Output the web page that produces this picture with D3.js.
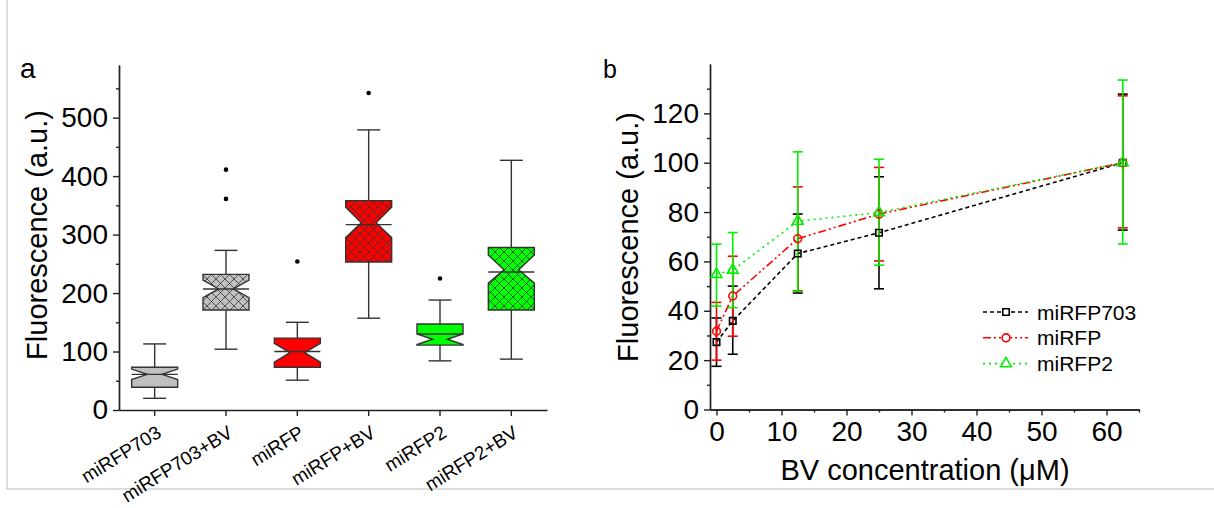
<!DOCTYPE html>
<html>
<head>
<meta charset="utf-8">
<script src="https://cdn.jsdelivr.net/npm/d3@7"></script>
<style>
  body { margin: 0; background: #fff; }
  svg { font-family: "Liberation Sans", Arial, sans-serif; }
</style>
</head>
<body>
<svg id="chart" width="1214" height="508"></svg>
<script>
// panel a: box plot values
const categories = ["miRFP703", "miRFP703+BV", "miRFP", "miRFP+BV", "miRFP2", "miRFP2+BV"];
const whiskerLo = [20, 104, 51, 157, 84, 87];
const q1 = [39, 171, 73, 253, 111, 171];
const notchLo = [52, 192, 82, 295, 112, 217];
const median = [61, 207, 98, 320, 121, 240];
const notchHi = [70, 222, 114, 347, 130, 265];
const q3 = [73, 232, 123, 358, 147, 278];
const whiskerHi = [113, 273, 150, 479, 188, 427];
const meanLine = [61, 207, 100, 317, 130, 236];
const outliers = [[], [361, 411], [254], [542], [225], []];
const boxFill = ["#c0c0c0", "#c0c0c0", "#ff0000", "#ff0000", "#00ff00", "#00ff00"];
const hatched = [false, true, false, true, false, true];
const yTicksA = [0, 100, 200, 300, 400, 500];
const yMinorA = [50, 150, 250, 350, 450, 550];

// panel b: dose response
const conc = [0, 2.5, 12.5, 25, 62.5];
const names = ["miRFP703", "miRFP", "miRFP2"];
const v703 = [27.3, 35.9, 63.2, 71.6, 100];
const v703Hi = [37.1, 50, 79.2, 94.3, 127.8];
const v703Lo = [17.5, 22.4, 47.2, 48.9, 72.7];
const vRFP = [31.7, 46, 69.2, 79.2, 100];
const vRFPHi = [43.4, 62.1, 90.2, 98.1, 127.1];
const vRFPLo = [20, 29.7, 48.1, 60.2, 73.6];
const vRFP2 = [54.8, 56.5, 76.3, 79.8, 100];
const vRFP2Hi = [67, 71.7, 104.4, 101.4, 133.5];
const vRFP2Lo = [41.9, 41.3, 47.9, 58.5, 67.1];
const xTicksB = [0, 10, 20, 30, 40, 50, 60];
const xMinorB = [5, 15, 25, 35, 45, 55, 65];
const yTicksB = [0, 20, 40, 60, 80, 100, 120];
const yMinorB = [10, 30, 50, 70, 90, 110, 130];

var svg = d3.select("#chart");
var axisColor = "#222";

// outer frame lines
svg.append("line").attr("x1", 7).attr("y1", 0).attr("x2", 7).attr("y2", 489)
  .attr("stroke", "#bbb").attr("stroke-width", 1);
svg.append("line").attr("x1", 7).attr("y1", 489).attr("x2", 1214).attr("y2", 489)
  .attr("stroke", "#bbb").attr("stroke-width", 1);

// crosshatch patterns
var defs = svg.append("defs");
boxFill.forEach(function(c, i) {
  if (!hatched[i]) return;
  var p = defs.append("pattern")
    .attr("id", "hatch" + i)
    .attr("patternUnits", "userSpaceOnUse")
    .attr("width", 9).attr("height", 9);
  p.append("rect").attr("width", 9).attr("height", 9).attr("fill", c);
  p.append("path").attr("d", "M0,0L9,9M9,0L0,9")
    .attr("stroke", "#333").attr("stroke-width", 0.8).attr("fill", "none");
});

function styleAxis(g, fs) {
  g.select(".domain").attr("stroke", axisColor).attr("stroke-width", 1.4);
  g.selectAll(".tick line").attr("stroke", axisColor).attr("stroke-width", 1.4);
  g.selectAll(".tick text").attr("fill", "#000").style("font-size", fs + "px")
    .style("font-family", "Liberation Sans, Arial, sans-serif");
}

// ---------- panel a ----------
var xA = d3.scaleBand().domain(categories).range([119, 547]);
var yA = d3.scaleLinear().domain([0, 590]).range([410, 65]);

var gyA = svg.append("g").attr("transform", "translate(119,0)")
  .call(d3.axisLeft(yA).tickValues(yTicksA).tickSize(6).tickSizeOuter(0).tickPadding(5));
styleAxis(gyA, 28);
var gyAm = svg.append("g").attr("transform", "translate(119,0)")
  .call(d3.axisLeft(yA).tickValues(yMinorA).tickSize(3).tickSizeOuter(0).tickFormat(""));
styleAxis(gyAm, 28);

var gxA = svg.append("g").attr("transform", "translate(0,410)")
  .call(d3.axisBottom(xA).tickSize(6).tickSizeOuter(0));
styleAxis(gxA, 19);
gxA.selectAll(".tick text")
  .attr("text-anchor", "end")
  .attr("dy", null)
  .attr("y", 0)
  .attr("transform", "translate(8,26) rotate(-32)");

svg.append("text").attr("x", 20).attr("y", 78).text("a")
  .style("font-size", "28px");
svg.append("text")
  .attr("transform", "translate(47,235) rotate(-90)")
  .attr("text-anchor", "middle")
  .style("font-size", "29px")
  .text("Fluorescence (a.u.)");

var bw = xA.bandwidth() * 0.645;
var boxes = svg.append("g");
categories.forEach(function(cat, i) {
  var cx = xA(cat) + xA.bandwidth() / 2;
  var l = cx - bw / 2, r = cx + bw / 2, ind = bw * 0.34;
  // whiskers
  boxes.append("line").attr("x1", cx).attr("x2", cx)
    .attr("y1", yA(whiskerLo[i])).attr("y2", yA(whiskerHi[i]))
    .attr("stroke", "#333").attr("stroke-width", 1.4);
  [whiskerLo[i], whiskerHi[i]].forEach(function(v) {
    boxes.append("line").attr("x1", cx - bw / 4).attr("x2", cx + bw / 4)
      .attr("y1", yA(v)).attr("y2", yA(v))
      .attr("stroke", "#333").attr("stroke-width", 1.4);
  });
  var pts = [
    [l, yA(q3[i])], [r, yA(q3[i])], [r, yA(notchHi[i])], [r - ind, yA(median[i])],
    [r, yA(notchLo[i])], [r, yA(q1[i])], [l, yA(q1[i])], [l, yA(notchLo[i])],
    [l + ind, yA(median[i])], [l, yA(notchHi[i])]
  ];
  boxes.append("path")
    .attr("d", "M" + pts.map(p => p.join(",")).join("L") + "Z")
    .attr("fill", hatched[i] ? "url(#hatch" + i + ")" : boxFill[i])
    .attr("stroke", "#333").attr("stroke-width", 1.4);
  boxes.append("line").attr("x1", l).attr("x2", r)
    .attr("y1", yA(meanLine[i])).attr("y2", yA(meanLine[i]))
    .attr("stroke", "#333").attr("stroke-width", 1.4);
  outliers[i].forEach(function(v) {
    boxes.append("circle").attr("cx", cx).attr("cy", yA(v)).attr("r", 2.3).attr("fill", "#000");
  });
});

// ---------- panel b ----------
var xB = d3.scaleLinear().domain([-1, 65]).range([710, 1139]);
var yB = d3.scaleLinear().domain([0, 140]).range([409.5, 64]);

var gyB = svg.append("g").attr("transform", "translate(710,0)")
  .call(d3.axisLeft(yB).tickValues(yTicksB).tickSize(6).tickSizeOuter(0).tickPadding(5));
styleAxis(gyB, 28);
var gyBm = svg.append("g").attr("transform", "translate(710,0)")
  .call(d3.axisLeft(yB).tickValues(yMinorB).tickSize(3).tickSizeOuter(0).tickFormat(""));
styleAxis(gyBm, 28);
var gxB = svg.append("g").attr("transform", "translate(0,409.5)")
  .call(d3.axisBottom(xB).tickValues(xTicksB).tickSize(6).tickSizeOuter(0).tickPadding(6));
styleAxis(gxB, 28);
var gxBm = svg.append("g").attr("transform", "translate(0,409.5)")
  .call(d3.axisBottom(xB).tickValues(xMinorB).tickSize(3).tickSizeOuter(0).tickFormat(""));
styleAxis(gxBm, 28);

svg.append("text").attr("x", 603).attr("y", 78).text("b")
  .style("font-size", "25px");
svg.append("text")
  .attr("transform", "translate(638,237) rotate(-90)")
  .attr("text-anchor", "middle")
  .style("font-size", "29px")
  .text("Fluorescence (a.u.)");
svg.append("text")
  .attr("x", 925).attr("y", 480)
  .attr("text-anchor", "middle")
  .style("font-size", "29px")
  .text("BV concentration (\u03bcM)");

var series = [
  { name: names[0], v: v703, hi: v703Hi, lo: v703Lo, color: "#000000", dash: "4,3", marker: "square" },
  { name: names[1], v: vRFP, hi: vRFPHi, lo: vRFPLo, color: "#ff0000", dash: "8,3,2,3,2,3", marker: "circle" },
  { name: names[2], v: vRFP2, hi: vRFP2Hi, lo: vRFP2Lo, color: "#00f000", dash: "2,4", marker: "triangle" }
];

var line = d3.line().x(d => xB(d[0])).y(d => yB(d[1]));
var symbolType = { square: d3.symbolSquare, circle: d3.symbolCircle, triangle: d3.symbolTriangle };
var symbolSize = { square: 42, circle: 48, triangle: 50 };

series.forEach(function(s) {
  var g = svg.append("g");
  g.append("path").datum(conc.map((c, i) => [c, s.v[i]]))
    .attr("d", line).attr("fill", "none")
    .attr("stroke", s.color).attr("stroke-width", 1.6).attr("stroke-dasharray", s.dash);
  conc.forEach(function(c, i) {
    var x = xB(c);
    g.append("line").attr("x1", x).attr("x2", x).attr("y1", yB(s.lo[i])).attr("y2", yB(s.hi[i]))
      .attr("stroke", s.color).attr("stroke-width", 1.6);
    [s.lo[i], s.hi[i]].forEach(function(v) {
      g.append("line").attr("x1", x - 5).attr("x2", x + 5).attr("y1", yB(v)).attr("y2", yB(v))
        .attr("stroke", s.color).attr("stroke-width", 1.6);
    });
  });
});
series.forEach(function(s) {
  conc.forEach(function(c, i) {
    svg.append("path")
      .attr("d", d3.symbol().type(symbolType[s.marker]).size(symbolSize[s.marker])())
      .attr("transform", "translate(" + xB(c) + "," + yB(s.v[i]) + ")")
      .attr("fill", "none").attr("stroke", s.color).attr("stroke-width", 1.6);
  });
});

// legend
var leg = svg.append("g");
series.forEach(function(s, i) {
  var y = 312 + i * 25.8;
  leg.append("line").attr("x1", 983).attr("x2", 1028).attr("y1", y).attr("y2", y)
    .attr("stroke", s.color).attr("stroke-width", 1.6).attr("stroke-dasharray", s.dash);
  leg.append("path")
    .attr("d", d3.symbol().type(symbolType[s.marker]).size(symbolSize[s.marker])())
    .attr("transform", "translate(1006," + y + ")")
    .attr("fill", "#fff").attr("stroke", s.color).attr("stroke-width", 1.6);
  leg.append("text").attr("x", 1037).attr("y", y + 7.5)
    .style("font-size", "21px").text(s.name);
});
</script>
</body>
</html>
